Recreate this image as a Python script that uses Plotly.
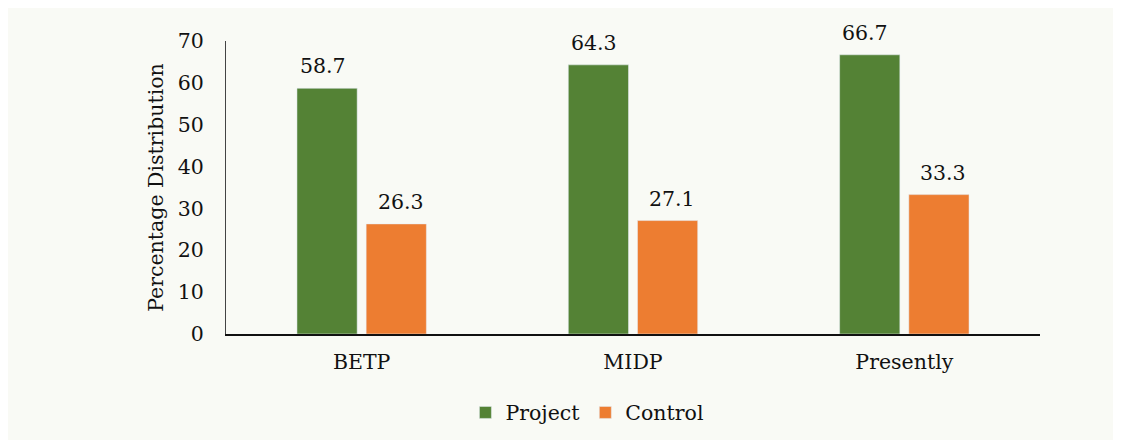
import plotly.graph_objects as go

categories = ["BETP", "MIDP", "Presently"]
project = [58.7, 64.3, 66.7]
control = [26.3, 27.1, 33.3]
series_names = ["Project", "Control"]
y_ticks = [0, 10, 20, 30, 40, 50, 60, 70]

GREEN = "#548235"
ORANGE = "#ed7d31"
BG = "#f9faf5"
FONT = "DejaVu Serif"
FS = 20.5

fig = go.Figure()
fig.add_trace(go.Bar(x=categories, y=project, name=series_names[0], marker_color=GREEN))
fig.add_trace(go.Bar(x=categories, y=control, name=series_names[1], marker_color=ORANGE))

for vals, shift in ((project, -39), (control, 39)):
    for c, v in zip(categories, vals):
        fig.add_annotation(x=c, y=v, text=f"{v:.1f}", showarrow=False, xref="x", yref="y",
                           xshift=shift, yshift=22, font=dict(size=FS, color="#111", family=FONT))

fig.update_layout(
    width=1121, height=440,
    margin=dict(l=218, r=89, t=33, b=114),
    paper_bgcolor=BG, plot_bgcolor=BG,
    barmode="group", bargap=0.49, bargroupgap=0.13,
    font=dict(family=FONT, size=FS, color="#111"),
    showlegend=True,
    legend=dict(orientation="h", x=0.444, xanchor="center", y=-0.2, yanchor="top",
                font=dict(size=FS), itemwidth=30, bgcolor="rgba(0,0,0,0)"),
    xaxis=dict(showline=True, linecolor="#111", linewidth=2, ticks="", showgrid=False,
               tickfont=dict(size=FS), ticklabelstandoff=8),
    yaxis=dict(range=[0, 70], tickvals=y_ticks, showline=True, linecolor="#444", linewidth=1,
               showgrid=False, zeroline=False, ticks="", ticklabelstandoff=17,
               title=dict(text="Percentage Distribution", font=dict(size=FS), standoff=8),
               tickfont=dict(size=FS)),
)

fig.write_html("out.html", post_script="document.documentElement.style.overflow='hidden';")
